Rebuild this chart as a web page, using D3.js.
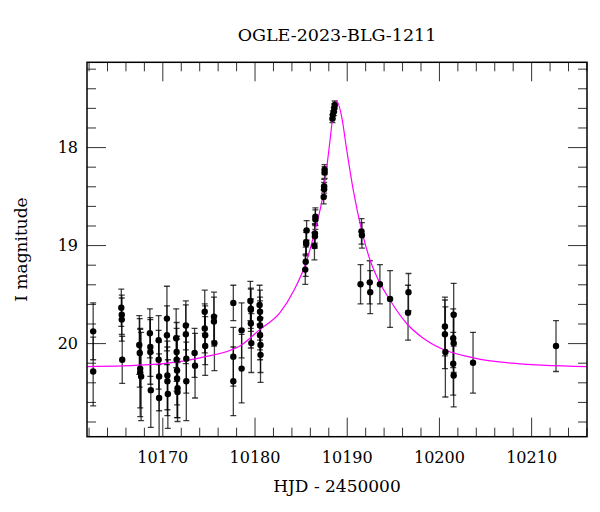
<!DOCTYPE html>
<html>
<head>
<meta charset="utf-8">
<script src="https://cdn.jsdelivr.net/npm/d3@7"></script>
<style>
  body { margin: 0; background: #fff; }
  svg { display: block; }
</style>
</head>
<body>
<div id="chart"></div>
<script>
const obsDay = [
  10162.5, 10162.5,
  10165.55, 10165.6, 10165.6, 10165.65,
  10167.5, 10167.55, 10167.6, 10167.6, 10167.7,
  10168.65, 10168.7, 10168.7, 10168.75,
  10169.6, 10169.6, 10169.65, 10169.65,
  10170.5, 10170.5, 10170.55, 10170.55, 10170.6,
  10171.5, 10171.55, 10171.55, 10171.6, 10171.6, 10171.65, 10171.65,
  10172.55, 10172.55, 10172.6, 10172.6,
  10173.5, 10173.55,
  10174.6, 10174.6, 10174.65, 10174.65,
  10175.6, 10175.6, 10175.65,
  10177.7, 10177.7, 10177.7,
  10178.6, 10178.6,
  10179.55, 10179.6, 10179.6, 10179.6, 10179.65,
  10180.55, 10180.6, 10180.6, 10180.6, 10180.6, 10180.65, 10180.65,
  10185.65, 10185.6, 10185.6, 10185.55, 10185.5,
  10186.6, 10186.6, 10186.55, 10186.55, 10186.5,
  10187.6, 10187.6, 10187.55, 10187.55, 10187.5,
  10188.7, 10188.65, 10188.6, 10188.5, 10188.45,
  10191.6, 10191.65,
  10191.5,
  10192.5, 10192.55,
  10193.6,
  10194.7,
  10196.7, 10196.65,
  10200.65, 10200.65, 10200.7,
  10201.6, 10201.55, 10201.6, 10201.55, 10201.6,
  10203.7,
  10212.7
];
const obsMag = [
  19.88, 20.29,
  19.64, 19.71, 19.76, 20.17,
  20.02, 20.10, 20.26, 20.30, 20.34,
  19.90, 20.04, 20.09, 20.48,
  19.97, 20.17, 20.34, 20.56,
  19.75, 19.92, 20.33, 20.39, 20.52,
  19.95, 20.09, 20.17, 20.28, 20.36, 20.46, 20.50,
  19.82, 19.91, 20.16, 20.39,
  20.10, 20.23,
  19.68, 19.85, 19.92, 20.03,
  19.73, 19.78, 20.00,
  19.59, 20.14, 20.39,
  19.87, 20.26,
  19.57, 19.65, 19.66, 19.80, 20.00,
  19.61, 19.68, 19.75, 19.82, 19.92, 20.02, 20.12,
  18.85, 18.97, 18.99, 19.17, 19.25,
  18.71, 18.74, 18.88, 18.91, 19.01,
  18.23, 18.26, 18.40, 18.43, 18.51,
  17.57, 17.60, 17.64, 17.67, 17.71,
  18.86, 18.90,
  19.40,
  19.38, 19.48,
  19.40,
  19.55,
  19.48, 19.69,
  19.83, 19.91, 20.09,
  19.71, 19.95, 20.00, 20.21, 20.33,
  20.20,
  20.03
];
const obsErr = [
  0.29, 0.35,
  0.19, 0.20, 0.22, 0.24,
  0.30, 0.35, 0.40, 0.45, 0.45,
  0.25, 0.30, 0.33, 0.38,
  0.25, 0.30, 0.35, 0.45,
  0.33, 0.30, 0.35, 0.35, 0.35,
  0.30, 0.30, 0.32, 0.35, 0.40, 0.30, 0.30,
  0.25, 0.30, 0.35, 0.40,
  0.25, 0.33,
  0.22, 0.25, 0.30, 0.30,
  0.25, 0.25, 0.28,
  0.18, 0.30, 0.35,
  0.28, 0.35,
  0.20, 0.20, 0.22, 0.25, 0.30,
  0.20, 0.22, 0.22, 0.25, 0.25, 0.28, 0.28,
  0.10, 0.12, 0.12, 0.15, 0.15,
  0.09, 0.10, 0.10, 0.12, 0.14,
  0.05, 0.06, 0.07, 0.07, 0.07,
  0.04, 0.04, 0.04, 0.04, 0.04,
  0.13, 0.13,
  0.20,
  0.22, 0.22,
  0.20,
  0.29,
  0.19, 0.28,
  0.30, 0.35, 0.46,
  0.32, 0.30, 0.30, 0.32, 0.32,
  0.31,
  0.26
];

// model curve
const modelDay = [10161.83, 10168.66, 10174.09, 10178.42, 10180.59, 10182.76, 10184.28, 10185.58,
  10186.56, 10187.46, 10188.19, 10188.54, 10188.91, 10189.45, 10190.0, 10190.71, 10191.62,
  10192.52, 10193.3, 10194.69, 10196.5, 10198.3, 10200.12, 10203.73, 10207.35, 10216.06];
const modelMag = [20.24, 20.22, 20.15, 20.03, 19.86, 19.69, 19.46, 19.18,
  18.85, 18.47, 17.93, 17.65, 17.53, 17.69, 18.03, 18.44, 18.85,
  19.15, 19.33, 19.56, 19.80, 19.95, 20.05, 20.15, 20.20, 20.24];

const xMajor = [10170, 10180, 10190, 10200, 10210];
const xMinor = [10162, 10164, 10166, 10168, 10172, 10174, 10176, 10178, 10182, 10184, 10186, 10188,
  10192, 10194, 10196, 10198, 10202, 10204, 10206, 10208, 10212, 10214, 10216];
const yMajor = [18, 19, 20];
const yMinor = [17.2, 17.4, 17.6, 17.8, 18.2, 18.4, 18.6, 18.8, 19.2, 19.4, 19.6, 19.8,
  20.2, 20.4, 20.6, 20.8];

const W = 600, H = 512;
const pLeft = 87, pRight = 587, pTop = 62.3, pBottom = 436.7;
const font = "'DejaVu Serif', serif";

const svg = d3.select("#chart").append("svg")
  .attr("width", W).attr("height", H);

const x = d3.scaleLinear().domain([10161.83, 10216.06]).range([pLeft, pRight]);
const y = d3.scaleLinear().domain([17.135, 20.955]).range([pTop, pBottom]);

svg.append("clipPath").attr("id", "clip")
  .append("rect")
  .attr("x", pLeft).attr("y", pTop)
  .attr("width", pRight - pLeft).attr("height", pBottom - pTop);

// ticks on all four sides, pointing inward
function tickAxis(axis, tr, vals, size, labels) {
  const g = svg.append("g")
    .attr("transform", tr)
    .call(axis.tickValues(vals).tickSize(-size).tickPadding(labels ? labels : 0)
      .tickFormat(labels ? d3.format("d") : ""));
  g.select(".domain").remove();
  g.selectAll(".tick line").attr("stroke", "#333").attr("stroke-width", 1);
  g.selectAll("text").attr("font-family", font).attr("font-size", 16).attr("fill", "#000");
  return g;
}
tickAxis(d3.axisBottom(x), `translate(0,${pBottom})`, xMajor, 19, 15);
tickAxis(d3.axisBottom(x), `translate(0,${pBottom})`, xMinor, 9, 0);
tickAxis(d3.axisTop(x), `translate(0,${pTop})`, xMajor, 19, 0);
tickAxis(d3.axisTop(x), `translate(0,${pTop})`, xMinor, 9, 0);
tickAxis(d3.axisLeft(y), `translate(${pLeft},0)`, yMajor, 19, 9);
tickAxis(d3.axisLeft(y), `translate(${pLeft},0)`, yMinor, 9, 0);
tickAxis(d3.axisRight(y), `translate(${pRight},0)`, yMajor, 19, 0);
tickAxis(d3.axisRight(y), `translate(${pRight},0)`, yMinor, 9, 0);

const plot = svg.append("g").attr("clip-path", "url(#clip)");

const obs = obsDay.map((d, i) => ({ t: d, m: obsMag[i], e: obsErr[i] }));

// error bars
const bars = plot.append("g")
  .attr("stroke", "#000")
  .attr("stroke-opacity", 0.75)
  .attr("stroke-width", 1.3);
obs.forEach(d => {
  const cx = x(d.t), y1 = y(d.m - d.e), y2 = y(d.m + d.e);
  bars.append("line").attr("x1", cx).attr("x2", cx).attr("y1", y1).attr("y2", y2);
  bars.append("line").attr("x1", cx - 3).attr("x2", cx + 3).attr("y1", y1).attr("y2", y1);
  bars.append("line").attr("x1", cx - 3).attr("x2", cx + 3).attr("y1", y2).attr("y2", y2);
});

// model
plot.append("path")
  .datum(modelDay.map((d, i) => [d, modelMag[i]]))
  .attr("d", d3.line().x(d => x(d[0])).y(d => y(d[1])).curve(d3.curveMonotoneX))
  .attr("fill", "none")
  .attr("stroke", "#ff00ff")
  .attr("stroke-width", 1.2);

// points
plot.selectAll("circle")
  .data(obs)
  .join("circle")
  .attr("cx", d => x(d.t))
  .attr("cy", d => y(d.m))
  .attr("r", 3.2)
  .attr("fill", "#000");

// frame
svg.append("rect")
  .attr("x", pLeft).attr("y", pTop)
  .attr("width", pRight - pLeft).attr("height", pBottom - pTop)
  .attr("fill", "none").attr("stroke", "#000").attr("stroke-width", 1.5);

svg.append("text")
  .attr("x", (pLeft + pRight) / 2).attr("y", 41)
  .attr("text-anchor", "middle")
  .attr("font-family", font).attr("font-size", 17.5)
  .text("OGLE-2023-BLG-1211");

svg.append("text")
  .attr("x", (pLeft + pRight) / 2).attr("y", 491.5)
  .attr("text-anchor", "middle")
  .attr("font-family", font).attr("font-size", 17)
  .text("HJD - 2450000");

svg.append("text")
  .attr("transform", `translate(27,${(pTop + pBottom) / 2}) rotate(-90)`)
  .attr("text-anchor", "middle")
  .attr("font-family", font).attr("font-size", 17)
  .text("I magnitude");
</script>
</body>
</html>
